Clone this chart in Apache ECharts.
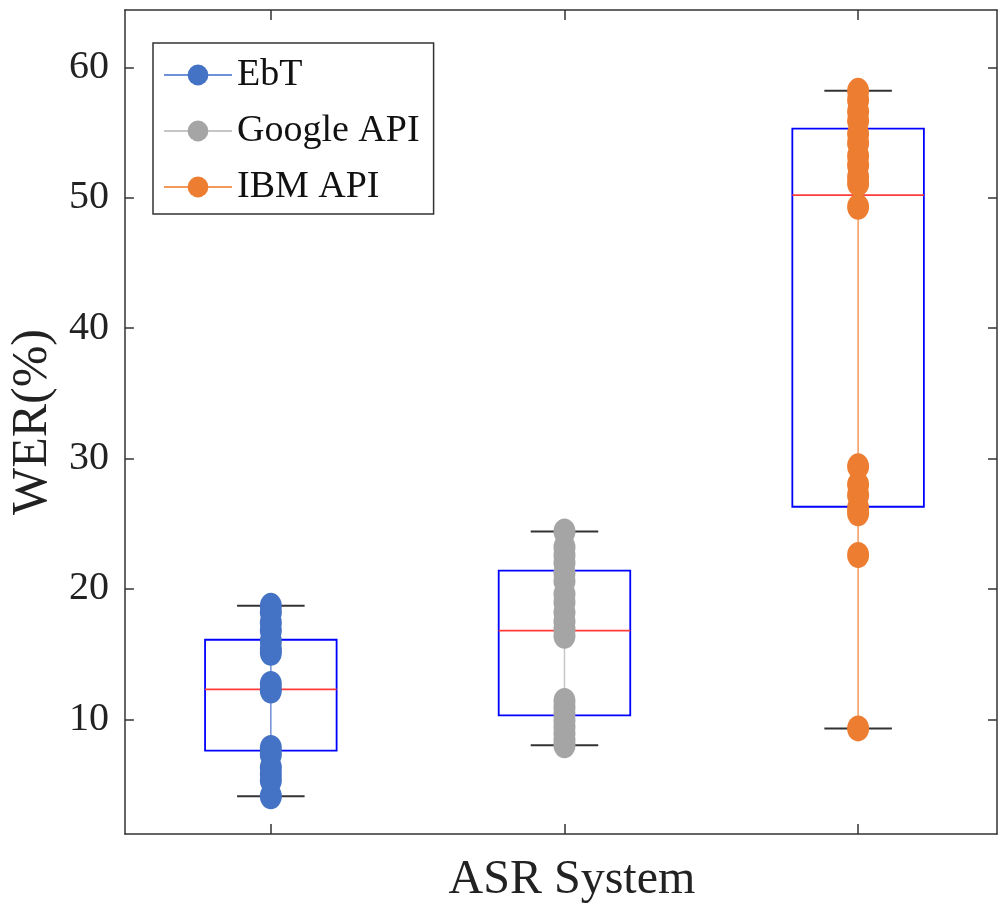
<!DOCTYPE html>
<html>
<head>
<meta charset="utf-8">
<script src="https://cdn.jsdelivr.net/npm/echarts@6/dist/echarts.min.js"></script>
<style>
    html, body { margin: 0; padding: 0; background: #fff; }
    #chart { width: 999px; height: 909px; }
</style>
</head>
<body>
<div id="chart"></div>
<script>
    const systems = ['EbT', 'Google API', 'IBM API'];
    const xTicks = [0, 1, 2];
    const ebtWer = [18.7, 18.2, 17.4, 16.8, 16.0, 15.4, 15.1, 12.7, 12.2, 7.8, 7.3, 6.3, 5.8, 5.3, 4.1];
    const googleWer = [24.4, 23.2, 22.6, 22.0, 21.2, 20.6, 19.6, 19.0, 18.2, 17.5, 16.9, 16.4, 11.4, 10.9, 10.4, 9.9, 9.4, 8.9, 8.4, 8.0];
    const ibmWer = [58.2, 57.5, 56.6, 55.9, 54.9, 54.2, 53.2, 52.5, 51.6, 51.1, 49.3, 29.4, 28.0, 27.2, 26.2, 25.8, 22.6, 9.3];
    // min, q1, median, q3, max
    const ebtBox = [4.1, 7.6, 12.3, 16.1, 18.7];
    const googleBox = [8.0, 10.3, 16.8, 21.4, 24.4];
    const ibmBox = [9.3, 26.3, 50.2, 55.3, 58.2];
    const yTicks = [10, 20, 30, 40, 50, 60];

    const dotColors = ['#4472C4', '#A5A5A5', '#ED7D31'];
    const lineColors = ['#6d90d6', '#c6c6c6', '#f29a5c'];
    const font = 'Liberation Serif';

    let chart = echarts.init(document.getElementById('chart'));

    function renderBox(params, api) {
        let x = api.value(0);
        let lo = api.coord([x, api.value(1)]);
        let q1 = api.coord([x, api.value(2)]);
        let med = api.coord([x, api.value(3)]);
        let q3 = api.coord([x, api.value(4)]);
        let hi = api.coord([x, api.value(5)]);
        let band = api.size([1, 0])[0];
        let half = band * 0.224;
        let cap = band * 0.115;
        let cx = lo[0];
        return {
            type: 'group',
            children: [
                { type: 'rect', shape: { x: cx - half, y: q3[1], width: half * 2, height: q1[1] - q3[1] },
                  style: { fill: 'none', stroke: '#0000ff', lineWidth: 1.8 } },
                { type: 'line', shape: { x1: cx - half, y1: med[1], x2: cx + half, y2: med[1] },
                  style: { stroke: '#ff3b3b', lineWidth: 1.8 } },
                { type: 'line', shape: { x1: cx - cap, y1: hi[1], x2: cx + cap, y2: hi[1] },
                  style: { stroke: '#333', lineWidth: 2 } },
                { type: 'line', shape: { x1: cx - cap, y1: lo[1], x2: cx + cap, y2: lo[1] },
                  style: { stroke: '#333', lineWidth: 2 } }
            ]
        };
    }

    function dots(name, values, i) {
        return {
            name: name,
            type: 'line',
            z: 3,
            data: values.map(v => [xTicks[i], v]),
            symbol: 'circle',
            symbolSize: [22, 26],
            showAllSymbol: true,
            itemStyle: { color: dotColors[i] },
            lineStyle: { color: lineColors[i], width: 1.5 }
        };
    }

    const axisLineStyle = { color: '#333', width: 1.5 };

    chart.setOption({
        animation: false,
        grid: { left: 124, right: 2, top: 10, bottom: 73 },
        legend: {
            data: systems,
            orient: 'vertical',
            left: 153,
            top: 43,
            padding: [13, 14, 8, 10],
            itemGap: 18,
            itemWidth: 68,
            itemHeight: 26,
            borderColor: '#333',
            borderWidth: 1.5,
            borderRadius: 0,
            textStyle: { fontFamily: font, fontSize: 38, color: '#111' }
        },
        xAxis: [{
            type: 'value',
            min: -0.497,
            max: 2.473,
            position: 'bottom',
            axisLine: { onZero: false, lineStyle: axisLineStyle },
            axisTick: { inside: true, length: 10, customValues: xTicks, lineStyle: axisLineStyle },
            axisLabel: { show: false },
            splitLine: { show: false },
            name: 'ASR System',
            nameLocation: 'middle',
            nameGap: 22,
            nameTextStyle: { fontFamily: font, fontSize: 48, color: '#222', verticalAlign: 'top', padding: [0, 0, 0, 22] }
        }, {
            type: 'value',
            min: -0.497,
            max: 2.473,
            position: 'top',
            axisLine: { onZero: false, lineStyle: axisLineStyle },
            axisTick: { inside: true, length: 10, customValues: xTicks, lineStyle: axisLineStyle },
            axisLabel: { show: false },
            splitLine: { show: false }
        }],
        yAxis: [{
            type: 'value',
            min: 1.2,
            max: 64.4,
            axisLine: { show: true, onZero: false, lineStyle: axisLineStyle },
            axisTick: { show: true, inside: true, length: 9, customValues: yTicks, lineStyle: axisLineStyle },
            axisLabel: { customValues: yTicks, fontFamily: font, fontSize: 40, color: '#222', margin: 16 },
            splitLine: { show: false },
            name: 'WER(%)',
            nameLocation: 'middle',
            nameRotate: 90,
            nameGap: 62,
            nameTextStyle: { fontFamily: font, fontSize: 50, color: '#222' }
        }, {
            type: 'value',
            position: 'right',
            min: 1.2,
            max: 64.4,
            axisLine: { show: true, onZero: false, lineStyle: axisLineStyle },
            axisTick: { show: true, inside: true, length: 9, customValues: yTicks, lineStyle: axisLineStyle },
            axisLabel: { show: false },
            splitLine: { show: false }
        }],
        series: [{
            type: 'custom',
            z: 2,
            renderItem: renderBox,
            encode: { x: 0, y: [1, 2, 3, 4, 5] },
            data: [[xTicks[0]].concat(ebtBox), [xTicks[1]].concat(googleBox), [xTicks[2]].concat(ibmBox)]
        },
            dots('EbT', ebtWer, 0),
            dots('Google API', googleWer, 1),
            dots('IBM API', ibmWer, 2)
        ]
    });
</script>
</body>
</html>
